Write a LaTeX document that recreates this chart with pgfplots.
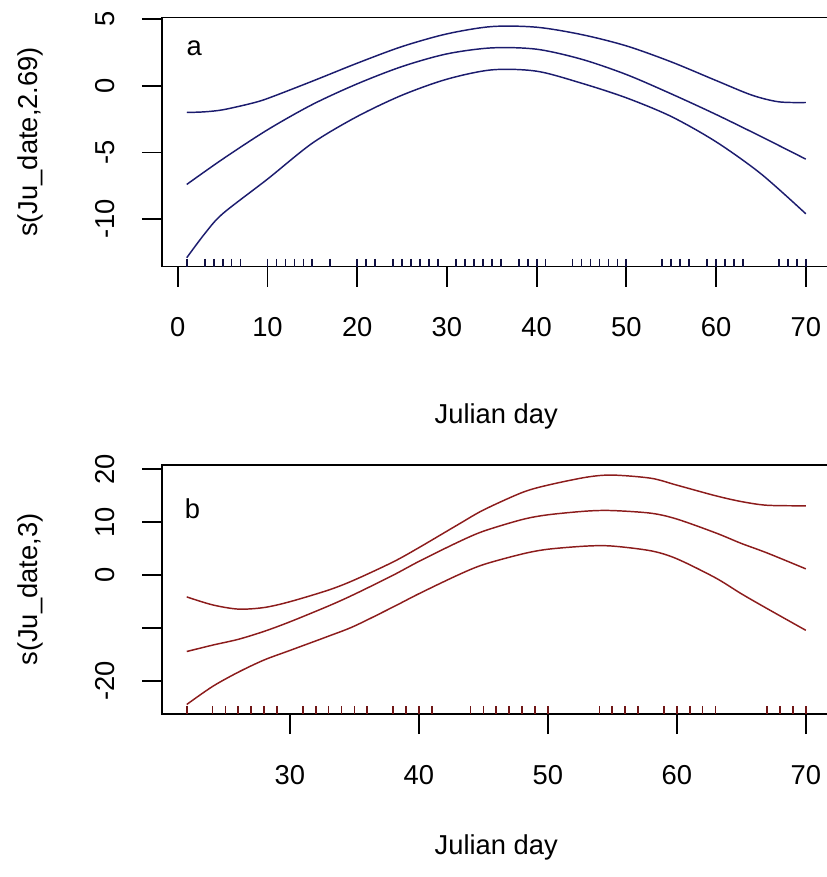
\documentclass[border=0pt]{standalone}
\usepackage{fontspec}
\setmainfont{Liberation Sans}
\usepackage{pgfplots}
\pgfplotsset{compat=1.18}
\definecolor{cA}{RGB}{28,28,110}
\definecolor{cB}{RGB}{140,28,28}
\pgfplotsset{
  rpanel/.style={
    scale only axis, width=501.4pt, height=186.75pt, anchor=north west,
    axis line style={line width=1.3pt},
    tick align=outside, xtick pos=bottom, ytick pos=left,
    major tick length=15pt,
    every tick/.style={black, line width=1.3pt},
    tick label style={font=\fontsize{20.5}{24}\selectfont},
    label style={font=\fontsize{20.5}{24}\selectfont},
    yticklabel style={rotate=90, anchor=south, inner sep=0pt},
    xticklabel style={anchor=north, inner sep=0pt},
    yticklabel shift=20pt, xticklabel shift=23pt,
    /pgf/number format/assume math mode=true,
  }
}
\begin{document}
\begin{tikzpicture}
\begin{axis}[rpanel, at={(121.5pt,-13.125pt)},
  xmin=-1.76, xmax=72.76, ymin=-13.56, ymax=5.13,
  xtick={0,10,20,30,40,50,60,70},
  xticklabels={0,10,20,30,40,50,60,70},
  ytick={-10,-5,0,5}, yticklabels={-10,-5,0,5},
  xlabel={Julian day}, ylabel={s(Ju\_date,2.69)},
  xlabel style={at={(axis description cs:0.5,-0.631)}, anchor=base},
  ylabel style={at={(axis description cs:-0.1855,0.5)}, anchor=base},
]
\addplot[cA, line width=1.1pt, smooth] coordinates {(1,-2.0) (3,-1.95) (5,-1.8) (8,-1.35) (10,-0.95) (15,0.35) (20,1.7) (25,2.95) (30,3.9) (35,4.45) (40,4.4) (45,3.85) (50,3.0) (55,1.8) (60,0.4) (64,-0.7) (67,-1.2) (70,-1.25)};
\addplot[cA, line width=1.1pt, smooth] coordinates {(1,-7.4) (5,-5.5) (10,-3.3) (15,-1.4) (20,0.15) (25,1.45) (30,2.4) (35,2.85) (40,2.75) (45,2.0) (50,0.85) (55,-0.6) (60,-2.15) (65,-3.8) (70,-5.5)};
\addplot[cA, line width=1.1pt, smooth] coordinates {(1,-12.9) (3,-11.1) (5,-9.6) (10,-7.0) (15,-4.3) (20,-2.3) (25,-0.7) (30,0.5) (35,1.2) (40,1.1) (45,0.2) (50,-0.9) (55,-2.3) (60,-4.2) (65,-6.6) (70,-9.6)};
\addplot[cA!60!black, only marks, mark=|, mark size=2.9pt, mark options={line width=1.3pt}] table[x=d, y=r] {
d r
1 -13.28
3 -13.28
4 -13.28
5 -13.28
6 -13.28
7 -13.28
10 -13.28
11 -13.28
12 -13.28
13 -13.28
14 -13.28
15 -13.28
17 -13.28
20 -13.28
21 -13.28
22 -13.28
24 -13.28
25 -13.28
26 -13.28
27 -13.28
28 -13.28
29 -13.28
31 -13.28
32 -13.28
33 -13.28
34 -13.28
35 -13.28
36 -13.28
38 -13.28
39 -13.28
40 -13.28
41 -13.28
44 -13.28
45 -13.28
46 -13.28
47 -13.28
48 -13.28
49 -13.28
50 -13.28
54 -13.28
55 -13.28
56 -13.28
57 -13.28
59 -13.28
60 -13.28
61 -13.28
62 -13.28
63 -13.28
67 -13.28
68 -13.28
69 -13.28
70 -13.28
};
\node[anchor=base west, font=\fontsize{20.5}{24}\selectfont] at (axis description cs:0.0299,0.849) {a};
\end{axis}
\begin{axis}[rpanel, at={(121.5pt,-348.75pt)},
  xmin=20.08, xmax=71.92, ymin=-26.2, ymax=20.8,
  xtick={30,40,50,60,70}, xticklabels={30,40,50,60,70},
  ytick={-20,-10,0,10,20}, yticklabels={-20,,0,10,20},
  xlabel={Julian day}, ylabel={s(Ju\_date,3)},
  xlabel style={at={(axis description cs:0.5,-0.566)}, anchor=base},
  ylabel style={at={(axis description cs:-0.1855,0.5)}, anchor=base},
]
\addplot[cB, line width=1.1pt, smooth] coordinates {(22,-4.1) (24,-5.6) (26,-6.4) (28,-6.1) (30,-5.0) (33,-2.8) (35,-0.9) (38,2.5) (40,5.2) (43,9.5) (45,12.3) (48,15.6) (50,17.0) (53,18.5) (55,18.9) (58,18.3) (60,17.0) (63,15.0) (65,13.9) (67,13.2) (70,13.1)};
\addplot[cB, line width=1.1pt, smooth] coordinates {(22,-14.4) (24,-13.2) (26,-12.1) (28,-10.6) (30,-8.8) (33,-5.8) (35,-3.6) (38,0.0) (40,2.6) (43,6.2) (45,8.3) (48,10.5) (50,11.4) (53,12.1) (55,12.2) (58,11.7) (60,10.6) (63,8.0) (65,6.0) (67,4.2) (70,1.2)};
\addplot[cB, line width=1.1pt, smooth] coordinates {(22,-24.4) (24,-21.0) (26,-18.3) (28,-16.0) (30,-14.2) (33,-11.5) (35,-9.6) (38,-6.0) (40,-3.5) (43,0.0) (45,2.0) (48,4.0) (50,4.9) (53,5.5) (55,5.5) (58,4.6) (60,3.1) (63,-0.5) (65,-3.5) (67,-6.3) (70,-10.4)};
\addplot[cB!80!black, only marks, mark=|, mark size=2.9pt, mark options={line width=1.3pt}] table[x=d, y=r] {
d r
22 -25.5
24 -25.5
25 -25.5
26 -25.5
27 -25.5
28 -25.5
29 -25.5
31 -25.5
32 -25.5
33 -25.5
34 -25.5
35 -25.5
36 -25.5
38 -25.5
39 -25.5
40 -25.5
41 -25.5
44 -25.5
45 -25.5
46 -25.5
47 -25.5
48 -25.5
49 -25.5
50 -25.5
54 -25.5
55 -25.5
56 -25.5
57 -25.5
59 -25.5
60 -25.5
61 -25.5
62 -25.5
63 -25.5
67 -25.5
68 -25.5
69 -25.5
70 -25.5
};
\node[anchor=base west, font=\fontsize{20.5}{24}\selectfont] at (axis description cs:0.027,0.787) {b};
\end{axis}
\pgfresetboundingbox
\useasboundingbox (0pt,0pt) rectangle (619.5pt,-657.75pt);
\end{tikzpicture}
\end{document}
